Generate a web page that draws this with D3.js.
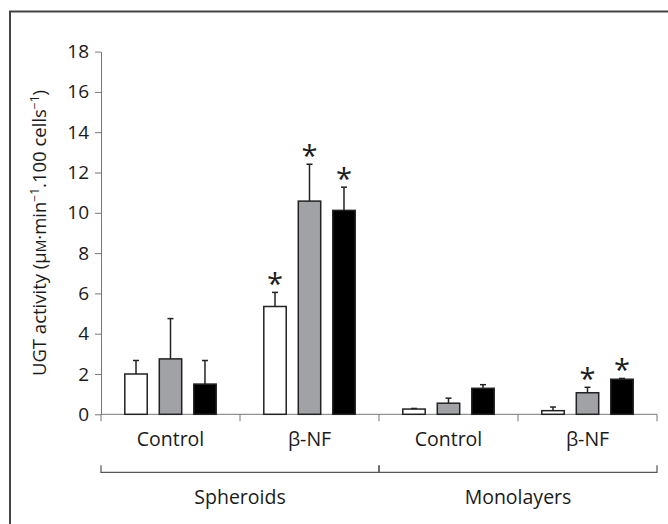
<!DOCTYPE html>
<html>
<head>
<meta charset="utf-8">
<script src="https://cdn.jsdelivr.net/npm/d3@7"></script>
<style>
  body { margin: 0; background: #fff; }
  text { font-family: "Open Sans", "Noto Sans", sans-serif; fill: #1a1a1a; }
</style>
</head>
<body>
<script>
// chart data
let groups = ["Control", "β-NF", "Control", "β-NF"];
let cultures = ["Spheroids", "Monolayers"];
let series = ["A", "B", "C"];
let means = [
    [2.0, 2.75, 1.5],
    [5.35, 10.58, 10.12],
    [0.26, 0.55, 1.29],
    [0.18, 1.07, 1.74]
];
let errors = [
    [0.67, 2.0, 1.17],
    [0.7, 1.83, 1.15],
    [0.03, 0.25, 0.18],
    [0.18, 0.27, 0.04]
];
let signif = [
    [false, false, false],
    [true, true, true],
    [false, false, false],
    [false, true, true]
];
let yTicks = [0, 2, 4, 6, 8, 10, 12, 14, 16, 18];

let width = 668,
    height = 524;
let colors = ["#ffffff", "#a1a2a6", "#000000"];

let svg = d3.select("body").append("svg")
    .attr("width", width).attr("height", height);

// frame
svg.append("rect")
    .attr("x", 10).attr("y", 11.5)
    .attr("width", 700).attr("height", 560)
    .attr("fill", "none")
    .attr("stroke", "#444")
    .attr("stroke-width", 2);

let x0 = d3.scaleBand().domain(d3.range(groups.length)).range([101, 657]);
let x1 = d3.scaleBand().domain(series).range([0, x0.bandwidth()])
    .paddingInner(0.35).paddingOuter(0.69);
let y = d3.scaleLinear().domain([0, 18]).range([414.3, 51.6]);

// y axis
let yAxis = svg.append("g")
    .attr("transform", "translate(101,0)")
    .call(d3.axisLeft(y).tickValues(yTicks).tickSize(6).tickSizeOuter(0).tickPadding(6));
yAxis.select(".domain").attr("stroke", "#777");
yAxis.selectAll(".tick line").attr("stroke", "#777");
yAxis.selectAll(".tick text")
    .style("font-size", "19px")
    .style("font-family", "'Open Sans', sans-serif")
    .attr("fill", "#1a1a1a");

// x axis line with ticks at band edges
let xg = svg.append("g");
xg.append("line")
    .attr("x1", x0.range()[0]).attr("x2", x0.range()[1])
    .attr("y1", y(0)).attr("y2", y(0))
    .attr("stroke", "#777");
let edges = groups.map((g, i) => x0(i)).concat([x0.range()[1]]);
xg.selectAll(".xt").data(edges).enter().append("line")
    .attr("x1", d => d).attr("x2", d => d)
    .attr("y1", y(0)).attr("y2", y(0) + 7)
    .attr("stroke", "#777");
xg.selectAll(".xl").data(groups).enter().append("text")
    .attr("x", (d, i) => x0(i) + x0.bandwidth() / 2)
    .attr("y", 446)
    .attr("text-anchor", "middle")
    .style("font-size", "19.5px")
    .text(d => d);

// culture brackets
let span = 2 * x0.bandwidth();
let bg = svg.append("g");
cultures.forEach((c, i) => {
    let xs = x0(i * 2), xe = xs + span;
    bg.append("path")
        .attr("d", `M${xs},465.3V472.3H${xe}V465.3`)
        .attr("fill", "none")
        .attr("stroke", "#555")
        .attr("stroke-width", 1.2);
    bg.append("text")
        .attr("x", (xs + xe) / 2)
        .attr("y", 503.5)
        .attr("text-anchor", "middle")
        .style("font-size", "19.5px")
        .text(c);
});

// bars
let gGroups = svg.selectAll(".grp")
    .data(means)
    .enter().append("g")
    .attr("transform", (d, i) => "translate(" + x0(i) + ",0)");

gGroups.each(function (vals, gi) {
    let g = d3.select(this);
    vals.forEach((v, si) => {
        let bx = x1(series[si]);
        let bw = x1.bandwidth();
        let top = v + errors[gi][si];
        // error bar
        g.append("line")
            .attr("x1", bx + bw / 2).attr("x2", bx + bw / 2)
            .attr("y1", y(v)).attr("y2", y(top))
            .attr("stroke", "#222").attr("stroke-width", 1.5);
        g.append("line")
            .attr("x1", bx + bw / 2 - 3).attr("x2", bx + bw / 2 + 3)
            .attr("y1", y(top)).attr("y2", y(top))
            .attr("stroke", "#222").attr("stroke-width", 1.5);
        g.append("rect")
            .attr("x", bx).attr("y", y(v))
            .attr("width", bw).attr("height", y(0) - y(v))
            .attr("fill", colors[si])
            .attr("stroke", "#222")
            .attr("stroke-width", 1.5);
        if (signif[gi][si]) {
            g.append("text")
                .attr("x", bx + bw / 2)
                .attr("y", y(top) + 2)
                .attr("text-anchor", "middle")
                .style("font-size", "29px")
                .text("*");
        }
    });
});

// y label
let yl = svg.append("text")
    .attr("transform", "translate(46,233) rotate(-90)")
    .attr("text-anchor", "middle")
    .style("font-size", "18.5px");
yl.append("tspan").text("UGT activity (μ");
yl.append("tspan").style("font-size", "14px").text("M");
yl.append("tspan").text("·min");
yl.append("tspan").attr("dy", -7).style("font-size", "12px").text("−1");
yl.append("tspan").attr("dy", 7).text(".100 cells");
yl.append("tspan").attr("dy", -7).style("font-size", "12px").text("−1");
yl.append("tspan").attr("dy", 7).text(")");
</script>
</body>
</html>
